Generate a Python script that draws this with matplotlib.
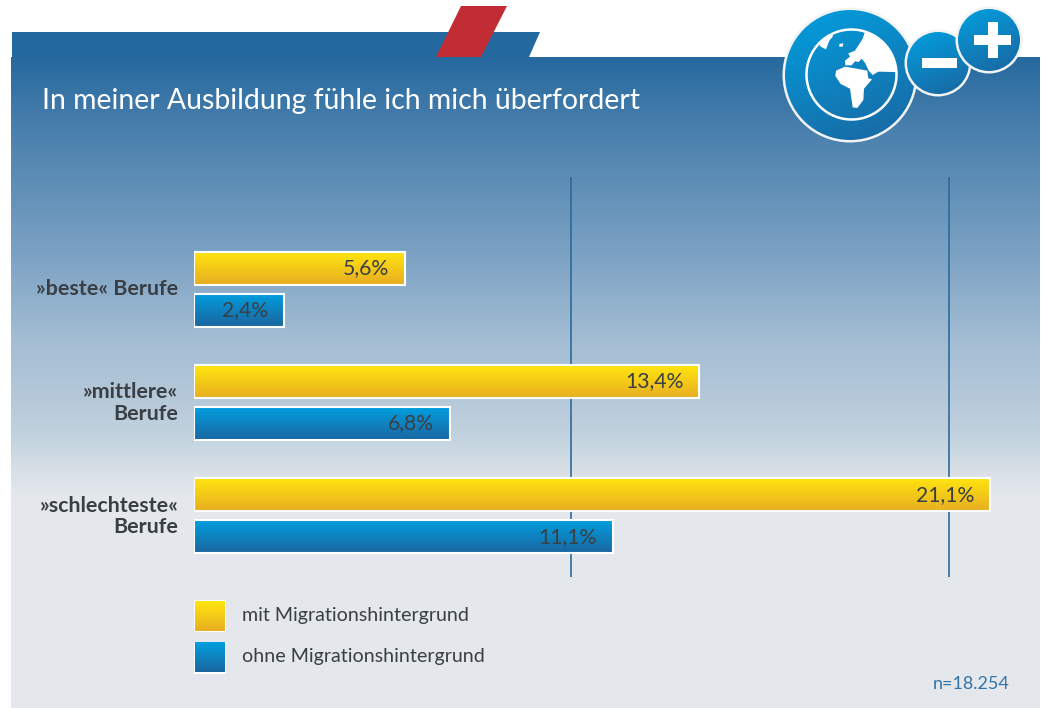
import numpy as np
import matplotlib
matplotlib.use("Agg")
import matplotlib.pyplot as plt
from matplotlib.colors import LinearSegmentedColormap
from matplotlib.patches import Circle, Polygon, Rectangle

categories = ["»beste« Berufe", "»mittlere«\nBerufe", "»schlechteste«\nBerufe"]
mit_werte = [5.6, 13.4, 21.1]
ohne_werte = [2.4, 6.8, 11.1]
legend_labels = ["mit Migrationshintergrund", "ohne Migrationshintergrund"]
title = "In meiner Ausbildung fühle ich mich überfordert"
note = "n=18.254"

W, H = 1046, 708
FONT = "Lato"
TEXT = "#3a3f44"

yellow = LinearSegmentedColormap.from_list("yellow", ["#ffe60f", "#e9ae22"])
blue = LinearSegmentedColormap.from_list("blue", ["#029fdf", "#1a66a0"])
page = LinearSegmentedColormap.from_list("page", [
    (0.0, "#26699f"), (0.166, "#4a80ad"), (0.438, "#7aa1c3"), (0.642, "#a3bdd3"),
    (0.778, "#b6c9d9"), (0.868, "#c3d3df"), (0.936, "#d8e0e6"), (1.0, "#e4e8ec")])
vert = np.linspace(0, 1, 256).reshape(-1, 1)

fig = plt.figure(figsize=(W / 100, H / 100), dpi=100, facecolor="white")

# background layer in pixel coordinates
bg = fig.add_axes([0, 0, 1, 1])
bg.set_xlim(0, W)
bg.set_ylim(H, 0)
bg.axis("off")
bg.add_patch(Polygon([(12, 32), (540, 32), (529, 57), (12, 57)], fc="#23699f", ec="none"))
bg.imshow(vert, cmap=page, extent=[11, 1040, 498, 57], aspect="auto", zorder=1)
bg.add_patch(Rectangle((11, 497.5), 1029, 210.5, fc="#e4e8ec", ec="none", zorder=1))
bg.add_patch(Polygon([(461, 6), (507, 6), (481, 57), (436, 57)], fc="#c22c35", ec="none", zorder=2))


def badge(cx, cy, r, z):
    # round icon with white rim and diagonal shading
    bg.add_patch(Circle((cx, cy), r + 2.5, fc="#f2f3f4", ec="none", zorder=z))
    xx, yy = np.meshgrid(np.linspace(0, 1, 64), np.linspace(0, 1, 64))
    im = bg.imshow(0.3 * xx + 0.7 * yy, cmap=blue, extent=[cx - r, cx + r, cy + r, cy - r],
                   aspect="auto", zorder=z + 0.1)
    im.set_clip_path(Circle((cx, cy), r, transform=bg.transData))


badge(850, 75, 65, 3)
badge(938, 63, 31, 4)
badge(989, 40, 31, 5)
bg.add_patch(Rectangle((922, 58), 35, 10, fc="white", ec="none", zorder=6))
bg.add_patch(Rectangle((974, 35), 37, 10, fc="white", ec="none", zorder=6))
bg.add_patch(Rectangle((988, 22), 10, 36, fc="white", ec="none", zorder=6))
bg.add_patch(Circle((851.5, 74.5), 45, fc="none", ec="white", lw=1.8, zorder=6))


def land(points):
    p = Polygon([(800 + x / 3, 20 + y / 3) for x, y in points], fc="white", ec="none", zorder=6)
    bg.add_patch(p)
    p.set_clip_path(Circle((851.5, 74.5), 45, transform=bg.transData))


# continents, traced from the icon
land([(50, 60), (60, 35), (100, 30), (98, 50), (88, 62), (78, 88), (62, 80)])
land([(135, 122), (150, 110), (145, 100), (165, 92), (188, 56), (200, 20), (300, 20), (320, 157),
      (235, 155), (218, 165), (206, 152), (196, 130), (185, 116), (176, 126), (165, 124),
      (155, 136), (136, 136)])
land([(108, 152), (135, 140), (170, 146), (202, 152), (205, 175), (216, 178), (192, 206), (190, 240),
      (172, 264), (158, 262), (150, 206), (122, 192), (106, 168)])
land([(118, 72), (130, 70), (128, 80), (118, 80)])

bg.text(42, 101, title, color="white", fontsize=20.4, family=FONT, va="center", ha="left", zorder=7)
bg.text(1010, 684, note, color="#3273a8", fontsize=13, family=FONT, va="center", ha="right", zorder=7)

# legend swatches
for i, (lab, cm) in enumerate(zip(legend_labels, [yellow, blue])):
    top = 600 + i * 41.5
    bg.add_patch(Rectangle((194, top), 32, 32, fc="white", ec="none", zorder=3))
    bg.imshow(vert, cmap=cm, extent=[195, 225, top + 31, top + 1], aspect="auto", zorder=4)
    bg.text(242, top + 15, lab, color=TEXT, fontsize=14.1, family=FONT, va="center", ha="left", zorder=7)
bg.set_xlim(0, W)
bg.set_ylim(H, 0)

# chart axes: 0 % at x=193.5, 37.75 px per percent, groups 113.3 px apart
ax = fig.add_axes([193.5 / W, 1 - 577 / H, 806 / W, 400 / H])
ax.patch.set_alpha(0)
for s in ax.spines.values():
    s.set_visible(False)
xlim = (0, 806 / 37.75)
ylim = (288 / 113.3, -112 / 113.3)
y = np.arange(len(categories))
bar_h = 33 / 113.3
off = 21 / 113.3

ax.vlines([10, 20], *ylim, color="#2c6a9c", lw=1.2, zorder=1)

for vals, pos, cm in [(mit_werte, y - off, yellow), (ohne_werte, y + off, blue)]:
    bars = ax.barh(pos, vals, height=bar_h, facecolor="none", edgecolor="white", lw=1.5, zorder=3)
    for b, v in zip(bars, vals):
        ax.imshow(vert, cmap=cm, aspect="auto", zorder=2,
                  extent=[0, v, b.get_y() + b.get_height(), b.get_y()])
        ax.text(v - 0.42, b.get_y() + b.get_height() / 2, f"{v:.1f}%".replace(".", ","),
                color=TEXT, fontsize=15.2, family=FONT, va="center", ha="right", zorder=4)

ax.set_xlim(xlim)
ax.set_ylim(ylim)
ax.set_yticks(y - 2 / 113.3, categories, fontsize=15.4, fontweight="bold", family=FONT, color=TEXT,
              ha="right", linespacing=1.1)
ax.set_xticks([])
ax.tick_params(axis="y", length=0, pad=11)

fig.savefig("out.png", dpi=100)
